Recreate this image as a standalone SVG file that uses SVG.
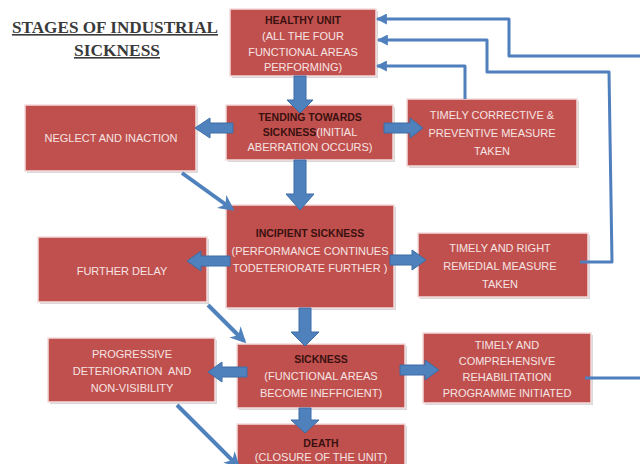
<svg xmlns="http://www.w3.org/2000/svg" width="640" height="464" viewBox="0 0 640 464">
<defs>
<style>
.box{fill:#c0504d;stroke:#f3dcdc;stroke-width:1.5}
.sh{fill:#d9d9d9}
.t{font-family:"Liberation Sans",Arial,sans-serif;font-size:11px;fill:#f6e4e4;text-anchor:middle}
.h{font-family:"Liberation Sans",Arial,sans-serif;font-size:10.5px;font-weight:bold;fill:#3a1010;text-anchor:middle}
.blk{fill:#4f81bd;stroke:#3d6da6;stroke-width:1}
.ln{fill:none;stroke:#4f7fbd;stroke-width:3;stroke-linejoin:round}
.dg{fill:none;stroke:#4f81bd;stroke-width:4}
.title{font-family:"Liberation Serif","Times New Roman",serif;font-size:16px;font-weight:bold;fill:#3a3a3a;text-anchor:middle;text-decoration:underline}
</style>
<marker id="ah" viewBox="0 0 10 10" refX="9" refY="5" markerWidth="11" markerHeight="11" markerUnits="userSpaceOnUse" orient="auto">
<path d="M0,0 L10,5 L0,10 Z" fill="#4f7fbd"/>
</marker>
<marker id="ad" viewBox="0 0 10 10" refX="8" refY="5" markerWidth="16" markerHeight="16" markerUnits="userSpaceOnUse" orient="auto">
<path d="M0,0 L10,5 L0,10 L3,5 Z" fill="#4f81bd"/>
</marker>
</defs>
<rect width="640" height="464" fill="#ffffff"/>

<g id="title">
<text class="title" x="115" y="33" textLength="206" lengthAdjust="spacingAndGlyphs">STAGES OF INDUSTRIAL</text>
<text class="title" x="117" y="56" textLength="86" lengthAdjust="spacingAndGlyphs">SICKNESS</text>
</g>

<g id="healthy">
<rect class="sh" x="232" y="11" width="146" height="67"/>
<rect class="box" x="230" y="9" width="146" height="67"/>
<text class="h" x="303" y="24">HEALTHY UNIT</text>
<text class="t" x="303" y="40">(ALL THE FOUR</text>
<text class="t" x="303" y="56">FUNCTIONAL AREAS</text>
<text class="t" x="303" y="71">PERFORMING)</text>
</g>

<g id="tending">
<rect class="sh" x="228" y="107" width="167" height="55"/>
<rect class="box" x="226" y="105" width="167" height="55"/>
<text class="h" x="310" y="121">TENDING TOWARDS</text>
<text x="310" y="136" class="t"><tspan class="h">SICKNESS</tspan>(INITIAL</text>
<text class="t" x="310" y="151">ABERRATION OCCURS)</text>
</g>

<g id="neglect">
<rect class="sh" x="27" y="107" width="171" height="66"/>
<rect class="box" x="25" y="105" width="171" height="66"/>
<text class="t" x="111" y="142">NEGLECT AND INACTION</text>
</g>

<g id="corrective">
<rect class="sh" x="409" y="101" width="170" height="67"/>
<rect class="box" x="407" y="99" width="170" height="67"/>
<text class="t" x="492" y="119">TIMELY CORRECTIVE &amp;</text>
<text class="t" x="492" y="137">PREVENTIVE MEASURE</text>
<text class="t" x="492" y="155">TAKEN</text>
</g>

<g id="incipient">
<rect class="sh" x="228" y="207" width="168" height="103"/>
<rect class="box" x="226" y="205" width="168" height="103"/>
<text class="h" x="310" y="237">INCIPIENT SICKNESS</text>
<text class="t" x="310" y="255">(PERFORMANCE CONTINUES</text>
<text class="t" x="310" y="272">TODETERIORATE FURTHER )</text>
</g>

<g id="delay">
<rect class="sh" x="40" y="239" width="169" height="65"/>
<rect class="box" x="38" y="237" width="169" height="65"/>
<text class="t" x="122" y="275">FURTHER DELAY</text>
</g>

<g id="remedial">
<rect class="sh" x="420" y="235" width="170" height="64"/>
<rect class="box" x="418" y="233" width="170" height="64"/>
<text class="t" x="500" y="252">TIMELY AND RIGHT</text>
<text class="t" x="500" y="270">REMEDIAL MEASURE</text>
<text class="t" x="500" y="288">TAKEN</text>
</g>

<g id="sickness">
<rect class="sh" x="239" y="346" width="168" height="64"/>
<rect class="box" x="237" y="344" width="168" height="64"/>
<text class="h" x="321" y="363">SICKNESS</text>
<text class="t" x="321" y="380">(FUNCTIONAL AREAS</text>
<text class="t" x="321" y="397">BECOME INEFFICIENT)</text>
</g>

<g id="progressive">
<rect class="sh" x="50" y="340" width="167" height="64"/>
<rect class="box" x="48" y="338" width="167" height="64"/>
<text class="t" x="132" y="358">PROGRESSIVE</text>
<text class="t" x="132" y="375">DETERIORATION&#160; AND</text>
<text class="t" x="132" y="392">NON-VISIBILITY</text>
</g>

<g id="comprehensive">
<rect class="sh" x="425" y="335" width="168" height="70"/>
<rect class="box" x="423" y="333" width="168" height="70"/>
<text class="t" x="507" y="349">TIMELY AND</text>
<text class="t" x="507" y="365">COMPREHENSIVE</text>
<text class="t" x="507" y="381">REHABILITATION</text>
<text class="t" x="507" y="397">PROGRAMME INITIATED</text>
</g>

<g id="death">
<rect class="sh" x="239" y="426" width="168" height="50"/>
<rect class="box" x="237" y="424" width="168" height="50"/>
<text class="h" x="321" y="447">DEATH</text>
<text class="t" x="321" y="461">(CLOSURE OF THE UNIT)</text>
</g>

<g id="connectors">
<path class="blk" d="M294,76 H306 V100 H313 L300,113 L287,100 H294 Z"/>
<path class="blk" d="M294,160 H306 V194 H314 L300,210 L286,194 H294 Z"/>
<path class="blk" d="M299,308 H311 V332 H319 L305,346 L291,332 H299 Z"/>
<path class="blk" d="M299,408 H311 V420 H319 L305,433 L291,420 H299 Z"/>
<path class="blk" d="M233,123 V133 H210 V138 L195,128 L210,118 V123 Z"/>
<path class="blk" d="M230,256 V266 H201 V271 L187,261 L201,251 V256 Z"/>
<path class="blk" d="M247,367 V377 H222 V382 L208,372 L222,362 V367 Z"/>
<path class="blk" d="M384,123 V133 H410 V138 L423,128 L410,118 V123 Z"/>
<path class="blk" d="M390,255 V265 H412 V270 L426,260 L412,250 V255 Z"/>
<path class="blk" d="M400,365 V375 H425 V380 L439,370 L425,360 V365 Z"/>
<path class="ln" d="M640,56 H509 V19 H377" marker-end="url(#ah)"/>
<path class="ln" d="M580,262 H612 L609,72 H487 V40 H378" marker-end="url(#ah)"/>
<path class="ln" d="M465,99 V66 H377" marker-end="url(#ah)"/>
<path class="ln" d="M585,378 H640"/>
<path class="dg" d="M182,173 L232,209" marker-end="url(#ad)"/>
<path class="dg" d="M208,305 L244,341" marker-end="url(#ad)"/>
<path class="dg" d="M177,405 L238,466" marker-end="url(#ad)"/>
</g>
</svg>
